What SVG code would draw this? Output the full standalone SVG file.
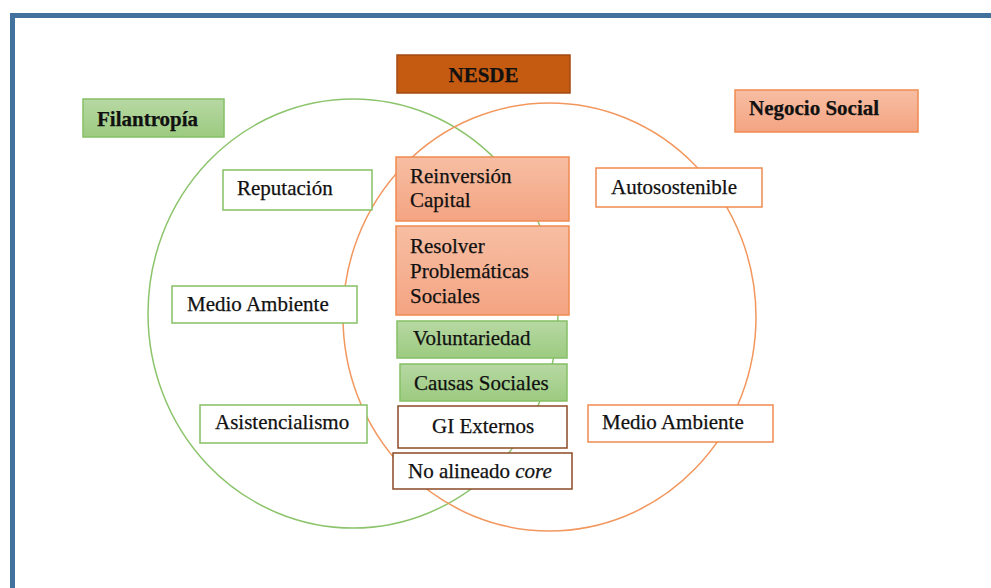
<svg xmlns="http://www.w3.org/2000/svg" width="991" height="588" viewBox="0 0 991 588">
<defs>
<linearGradient id="gOr" x1="0" y1="0" x2="0" y2="1"><stop offset="0" stop-color="#f7bea3"/><stop offset="1" stop-color="#f4a482"/></linearGradient>
<linearGradient id="gGr" x1="0" y1="0" x2="0" y2="1"><stop offset="0" stop-color="#b7d8a3"/><stop offset="1" stop-color="#9ccb80"/></linearGradient>
</defs>
<style>
text{font-family:"Liberation Serif","Times New Roman",serif;font-size:21px;fill:#111;stroke:#111;stroke-width:0.25}
.b{font-weight:bold}
.or{fill:url(#gOr);stroke:#ef8a4f;stroke-width:1.5}
.gr{fill:url(#gGr);stroke:#86c066;stroke-width:1.5}
.wg{fill:#fff;stroke:#86c066;stroke-width:1.5}
.wo{fill:#fff;stroke:#ef8a4f;stroke-width:1.5}
.wb{fill:#fff;stroke:#8a4a26;stroke-width:1.5}
</style>
<rect x="0" y="0" width="991" height="588" fill="#fff"/>
<rect x="12.5" y="15.5" width="1000" height="600" fill="none" stroke="#41719c" stroke-width="5"/>
<g id="connectors">
<ellipse cx="353" cy="313.5" rx="205" ry="214.5" fill="none" stroke="#8cc46c" stroke-width="1.5"/>
<ellipse cx="549.5" cy="317" rx="206.5" ry="214" fill="none" stroke="#f2975e" stroke-width="1.5"/>
</g>
<g id="nesde"><rect x="397" y="55" width="173" height="38" fill="#c55a11" stroke="#a44a12" stroke-width="1.5"/><text class="b" x="483.5" y="82" text-anchor="middle">NESDE</text></g>
<g id="filantropia"><rect class="gr" x="83" y="99" width="141" height="38"/><text class="b" x="97" y="126">Filantropía</text></g>
<g id="negocio-social"><rect class="or" x="735" y="90" width="183" height="42"/><text class="b" x="749" y="115">Negocio Social</text></g>
<g id="reputacion"><rect class="wg" x="223" y="170" width="149" height="40"/><text x="237" y="195">Reputación</text></g>
<g id="medio-ambiente-1"><rect class="wg" x="172" y="286" width="185" height="37"/><text x="187" y="311">Medio Ambiente</text></g>
<g id="asistencialismo"><rect class="wg" x="200" y="405" width="167" height="38"/><text x="215" y="429">Asistencialismo</text></g>
<g id="autosostenible"><rect class="wo" x="596" y="168" width="166" height="39"/><text x="611" y="194">Autosostenible</text></g>
<g id="medio-ambiente-2"><rect class="wo" x="588" y="405" width="185" height="37"/><text x="602" y="429">Medio Ambiente</text></g>
<g id="reinversion"><rect class="or" x="396" y="157" width="173" height="64"/><text x="410" y="183">Reinversión</text><text x="410" y="207">Capital</text></g>
<g id="resolver"><rect class="or" x="396" y="226" width="173" height="89"/><text x="410" y="253">Resolver</text><text x="410" y="278">Problemáticas</text><text x="410" y="303">Sociales</text></g>
<g id="voluntariedad"><rect class="gr" x="397" y="321" width="170" height="37"/><text x="413" y="345">Voluntariedad</text></g>
<g id="causas-sociales"><rect class="gr" x="400" y="364" width="167" height="37"/><text x="414" y="390">Causas Sociales</text></g>
<g id="gi-externos"><rect class="wb" x="398" y="406" width="169" height="42"/><text x="432" y="433">GI Externos</text></g>
<g id="no-alineado"><rect class="wb" x="393" y="453" width="179" height="36"/><text x="408" y="478">No alineado <tspan font-style="italic">core</tspan></text></g>
</svg>
